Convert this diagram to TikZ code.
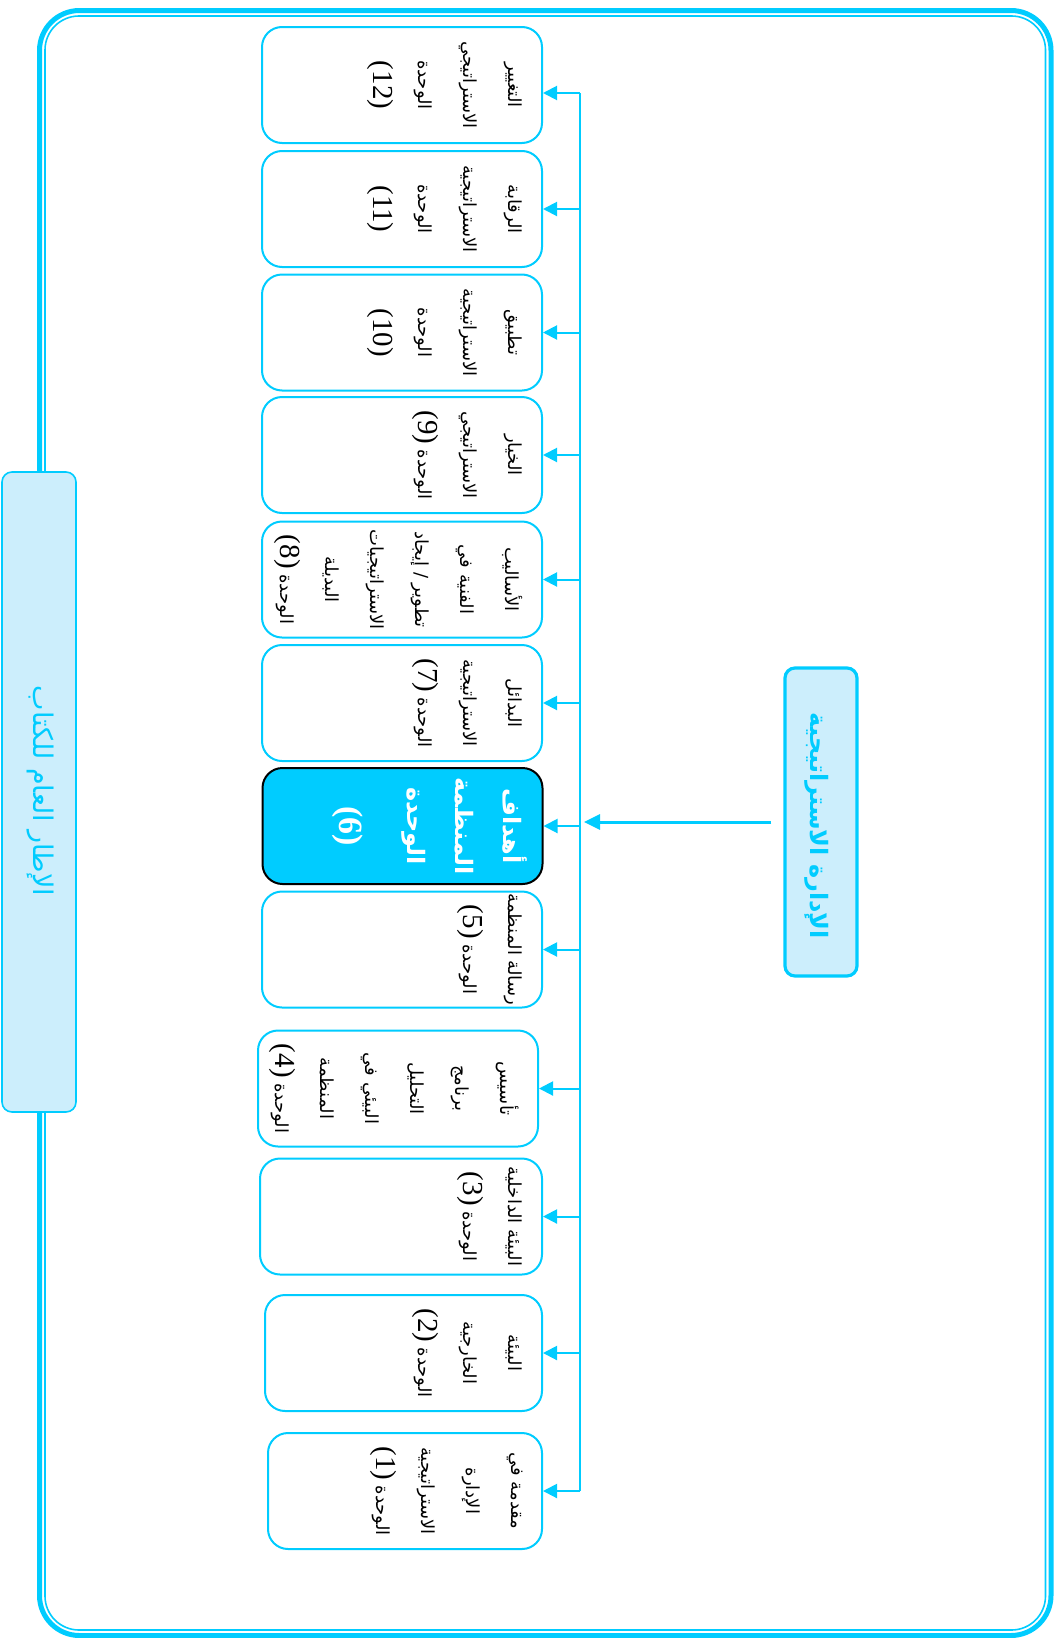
\documentclass[tikz,border=0pt]{standalone}
\usepackage{fontspec}
\usetikzlibrary{arrows.meta}
\TeXXeTstate=1
\newfontfamily\arabicfont[Script=Arabic]{DejaVu Sans}
\newfontfamily\latinfont{Liberation Serif}
\definecolor{boxcyan}{HTML}{00CCFF}
\definecolor{boxpale}{HTML}{CCEEFC}
\newcommand{\rl}[1]{\beginR #1\endR}
\newcommand{\unitno}[1]{\beginL{\latinfont\fontsize{14.5}{14.5}\selectfont #1}\endL{}}

\begin{document}
\begin{tikzpicture}[x=0.5pt,y=-0.5pt,
  unit/.style={draw=boxcyan,line width=1pt,rounded corners=10pt,fill=white,
    minimum width=140pt,minimum height=58pt,inner sep=0pt},
  unittext/.style={rotate=-90,anchor=north,align=center,inner sep=0pt,
    font=\arabicfont\fontsize{9}{22.5}\selectfont},
  feed/.style={draw=boxcyan,line width=1pt,-{Triangle[length=7pt,width=7pt]}},
  sidebox/.style={draw=boxcyan,fill=boxpale,rounded corners=5pt,inner sep=0pt}]
  \useasboundingbox (0,0) rectangle (1058,1638);
  % outer frame
  \draw[boxcyan,line width=2.5pt,rounded corners=20pt] (39.5,10.5) rectangle (1051,1635.5);
  \draw[boxcyan,line width=0.8pt,rounded corners=17pt] (45,16) rectangle (1045.5,1630);

  % side boxes
  \node[sidebox,line width=0.8pt,minimum width=37pt,minimum height=320pt] (book) at (39,792) {};
  \node[rotate=-90,text=boxcyan,font=\arabicfont\fontsize{13.5}{13.5}\selectfont] (booktext) at (40,791) {\rl{الإطار العام للكتاب}};
  \node[sidebox,line width=1.6pt,minimum width=36pt,minimum height=154pt] (mgmt) at (821,822) {};
  \node[rotate=-90,text=boxcyan,font=\arabicfont\bfseries\fontsize{12}{12}\selectfont] (mgmttext) at (817,826) {\rl{الإدارة الاستراتيجية}};

  % units
  \node[unit] (u12) at (402,85) {};
  \node[unit] (u11) at (402,209) {};
  \node[unit] (u10) at (402,332.5) {};
  \node[unit] (u9) at (402,455) {};
  \node[unit] (u8) at (402,579.5) {};
  \node[unit] (u7) at (402,703) {};
  \node[unit,fill=boxcyan,draw=black] (u6) at (402.5,826) {};
  \node[unit] (u5) at (402,949.5) {};
  \node[unit] (u4) at (398,1088.5) {};
  \node[unit,minimum width=141pt] (u3) at (401,1216.5) {};
  \node[unit,minimum width=138.5pt] (u2) at (403.5,1353) {};
  \node[unit,minimum width=137pt] (u1) at (405,1491) {};

  \node[unittext] (t12) at ([xshift=-10pt]u12.east) {\rl{التغيير}\\ \rl{الاستراتيجي}\\ \rl{الوحدة}\\ \unitno{(12)}};
  \node[unittext] (t11) at ([xshift=-10pt]u11.east) {\rl{الرقابة}\\ \rl{الاستراتيجية}\\ \rl{الوحدة}\\ \unitno{(11)}};
  \node[unittext] (t10) at ([xshift=-10pt]u10.east) {\rl{تطبيق}\\ \rl{الاستراتيجية}\\ \rl{الوحدة}\\ \unitno{(10)}};
  \node[unittext] (t9) at ([xshift=-10pt]u9.east) {\rl{الخيار}\\ \rl{الاستراتيجي}\\ \rl{الوحدة \unitno{(9)}}};
  \node[unittext] (t8) at ([xshift=-10pt]u8.east) {\rl{الأساليب}\\ \rl{الفنية في}\\ \rl{تطوير / إيجاد}\\ \rl{الاستراتيجيات}\\ \rl{البديلة}\\ \rl{الوحدة \unitno{(8)}}};
  \node[unittext] (t7) at ([xshift=-10pt]u7.east) {\rl{البدائل}\\ \rl{الاستراتيجية}\\ \rl{الوحدة \unitno{(7)}}};
  \node[unittext,text=white,font=\arabicfont\bfseries\fontsize{12}{24}\selectfont] (t6) at ([xshift=-8pt]u6.east) {\rl{أهداف}\\ \rl{المنظمة}\\ \rl{الوحدة}\\[10pt] \beginL{\latinfont\bfseries\fontsize{17}{17}\selectfont (6)}\endL{}};
  \node[unittext] (t5) at ([xshift=-10pt]u5.east) {\rl{رسالة المنظمة}\\ \rl{الوحدة \unitno{(5)}}};
  \node[unittext] (t4) at ([xshift=-10pt]u4.east) {\rl{تأسيس}\\ \rl{برنامج}\\ \rl{التحليل}\\ \rl{البيئي في}\\ \rl{المنظمة}\\ \rl{الوحدة \unitno{(4)}}};
  \node[unittext] (t3) at ([xshift=-10pt]u3.east) {\rl{البيئة الداخلية}\\ \rl{الوحدة \unitno{(3)}}};
  \node[unittext] (t2) at ([xshift=-10pt]u2.east) {\rl{البيئة}\\ \rl{الخارجية}\\ \rl{الوحدة \unitno{(2)}}};
  \node[unittext] (t1) at ([xshift=-10pt]u1.east) {\rl{مقدمة في}\\ \rl{الإدارة}\\ \rl{الاستراتيجية}\\ \rl{الوحدة \unitno{(1)}}};

  % bus and arrows
  \coordinate (bustop) at (580,93);
  \coordinate (busend) at (580,1491);
  \draw[boxcyan,line width=1pt] (bustop) -- (busend);
  \draw[feed] (bustop) -- (bustop -| u12.east);
  \foreach \i in {1,...,11}
    \draw[feed] (u\i.east -| bustop) -- (u\i.east);
  \draw[boxcyan,line width=1.5pt,-{Triangle[length=8pt,width=7.5pt]},shorten >=2pt,shorten <=6pt] (mgmt.west) -- (mgmt.west -| bustop);
\end{tikzpicture}
\end{document}
